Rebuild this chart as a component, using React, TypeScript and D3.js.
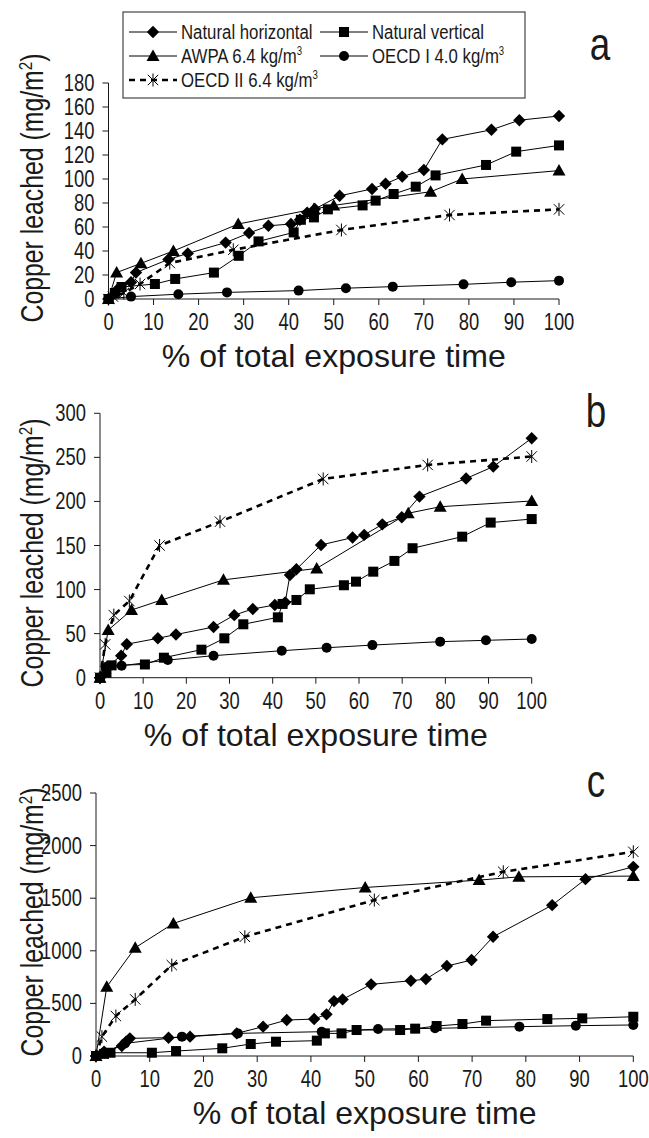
import React from "react";
import * as d3 from "d3";

// ---------- data ----------
const seriesNames = [
  "Natural horizontal",
  "Natural vertical",
  "AWPA 6.4 kg/m",
  "OECD I  4.0 kg/m",
  "OECD II 6.4 kg/m",
];
const seriesShapes = ["diamond", "square", "triangle", "circle", "star"];

const xTicks = [0, 10, 20, 30, 40, 50, 60, 70, 80, 90, 100];
const yTicksA = [0, 20, 40, 60, 80, 100, 120, 140, 160, 180];
const yTicksB = [0, 50, 100, 150, 200, 250, 300];
const yTicksC = [0, 500, 1000, 1500, 2000, 2500];

// Panel a
const aNHx = [0, 2, 5, 6.1, 13.3, 17.6, 26, 31.2, 35.5, 40.5, 42.5, 44.1, 45.8, 51.3, 58.5, 61.5, 65.2, 70, 74.1, 85, 91.2, 100];
const aNHy = [0, 8, 14, 22, 33, 38, 47, 55, 61, 62.5, 66, 72, 75, 86, 91.7, 96, 102, 107.5, 133, 141, 149, 152.5];
const aNVx = [0, 1.4, 2.9, 10.3, 14.8, 23.4, 28.9, 33.3, 41.1, 42.7, 45.6, 48.7, 56.4, 59.3, 63.3, 68.2, 72.6, 83.8, 90.5, 100];
const aNVy = [0, 5, 10, 12.5, 16.7, 22, 36, 48, 55.5, 66, 68, 74.7, 78, 82, 87.5, 93.6, 103, 111.7, 122.8, 128];
const aAWx = [0, 1.8, 7.2, 14.4, 28.8, 45.6, 50, 71.5, 78.5, 100];
const aAWy = [0, 22, 29.7, 40, 62.5, 75, 78, 89.4, 100, 107];
const aO1x = [0, 5, 15.5, 26.3, 42.2, 52.7, 63.1, 78.8, 89.4, 100];
const aO1y = [0, 2, 4, 5.5, 7, 9, 10.3, 12.2, 14, 15.3];
const aO2x = [0, 1, 3.4, 7, 13.6, 27.7, 51.7, 75.7, 100];
const aO2y = [0, 2, 5, 12.5, 30, 41, 57.5, 70, 74.7];

// Panel b
const bNHx = [0, 1.5, 4.9, 6.2, 13.4, 17.6, 26.3, 31.1, 35.4, 40.5, 42.9, 44, 45.5, 51.2, 58.5, 61.2, 65.4, 69.9, 74, 84.8, 91.1, 100];
const bNHy = [0, 12, 25, 38, 44.7, 49, 57.5, 71, 78, 82.5, 85.5, 116.6, 123, 150.6, 159, 162, 174, 182, 205.5, 226, 239.5, 271.7];
const bNVx = [0, 1.5, 2.7, 10.4, 14.8, 23.5, 28.8, 33.2, 41.2, 42.3, 45.5, 48.6, 56.5, 59.3, 63.3, 68.2, 72.4, 83.9, 90.5, 100];
const bNVy = [0, 5.7, 14, 15, 22.7, 31.8, 44.7, 60.6, 68.5, 83.7, 88.2, 100.3, 104.9, 109, 120.3, 132.5, 146.9, 160, 176, 180];
const bAWx = [0, 1.9, 7.3, 14.3, 28.6, 50.2, 71.4, 78.8, 100];
const bAWy = [0, 54, 76.8, 88.2, 111, 124, 186.6, 194, 200.5];
const bO1x = [0, 1.5, 5, 15.7, 26.3, 42.1, 52.5, 63.1, 78.8, 89.4, 100];
const bO1y = [0, 12, 13.6, 20, 25, 30.6, 34, 37, 40.9, 42.4, 43.9];
const bO2x = [0, 1.2, 3.2, 6.8, 13.8, 27.8, 51.7, 75.9, 100];
const bO2y = [0, 37.8, 71, 87, 150, 177, 225.5, 241.4, 251];

// Panel c
const cNHx = [0, 1.5, 4.8, 5.6, 6.3, 13.5, 17.5, 26.2, 31.1, 35.5, 40.6, 42.9, 44.3, 45.9, 51.2, 58.6, 61.4, 65.3, 69.9, 73.9, 84.9, 91.1, 100];
const cNHy = [0, 40, 95, 136, 168, 174, 184, 215, 279, 342, 351, 396, 522, 538, 681, 715, 731, 855, 912, 1133, 1434, 1681, 1798];
const cNVx = [0, 1.5, 2.7, 10.4, 14.9, 23.5, 28.8, 33.5, 41.1, 42.6, 45.7, 48.5, 56.6, 59.4, 63.4, 68.2, 72.6, 84, 90.5, 100];
const cNVy = [0, 20, 31, 31, 47, 73, 114, 136, 146, 215, 215, 247, 247, 260, 285, 304, 336, 351, 358, 373];
const cAWx = [0, 2, 7.3, 14.4, 28.8, 50.1, 71.3, 78.7, 100];
const cAWy = [0, 658, 1029, 1260, 1504, 1602, 1672, 1703, 1710];
const cO1x = [0, 1.5, 5.4, 16, 26.4, 42, 52.5, 63.1, 78.8, 89.3, 100];
const cO1y = [0, 30, 120, 184, 215, 231, 256, 263, 279, 288, 295];
const cO2x = [0, 1.1, 3.7, 7.3, 14.1, 27.7, 51.8, 75.8, 100];
const cO2y = [0, 184, 380, 538, 864, 1133, 1482, 1751, 1941];

const FONT = "'Liberation Sans', Arial, sans-serif";
const INK = "#1a1a1a";
const NARROW = 0.8;

type Pt = [number, number];
const zip = (xs: number[], ys: number[]): Pt[] => xs.map((x, i) => [x, ys[i]]);

function NText({
  x,
  y,
  size,
  anchor = "start",
  rotate = false,
  sx = NARROW,
  children,
}: {
  x: number;
  y: number;
  size: number;
  anchor?: string;
  rotate?: boolean;
  sx?: number;
  children: React.ReactNode;
}) {
  return (
    <text
      transform={`translate(${x},${y})${rotate ? " rotate(-90)" : ""} scale(${sx},1)`}
      textAnchor={anchor}
      fontSize={size}
      fontFamily={FONT}
      fill={INK}
    >
      {children}
    </text>
  );
}

function Marker({ shape, x, y }: { shape: string; x: number; y: number }) {
  if (shape === "diamond") {
    const r = 6.2;
    return <path d={`M${x},${y - r}L${x + r},${y}L${x},${y + r}L${x - r},${y}Z`} fill="#000" />;
  }
  if (shape === "square") {
    const s = 10;
    return <rect x={x - s / 2} y={y - s / 2} width={s} height={s} fill="#000" />;
  }
  if (shape === "triangle") {
    const w = 6.5;
    return <path d={`M${x},${y - 6.5}L${x + w},${y + 5}L${x - w},${y + 5}Z`} fill="#000" />;
  }
  if (shape === "circle") {
    return <circle cx={x} cy={y} r={5} fill="#000" />;
  }
  const r = 6.5;
  const d = r * 0.8;
  return (
    <g stroke="#000" strokeWidth={1}>
      <line x1={x} y1={y - r} x2={x} y2={y + r} />
      <line x1={x - d} y1={y - d} x2={x + d} y2={y + d} />
      <line x1={x - d} y1={y + d} x2={x + d} y2={y - d} />
    </g>
  );
}

function Panel({
  series,
  yTicks,
  yMax,
  x0,
  x1,
  y0,
  y1,
  titleCy,
  letter,
  letterX,
  letterY,
}: {
  series: Pt[][];
  yTicks: number[];
  yMax: number;
  x0: number;
  x1: number;
  y0: number;
  y1: number;
  titleCy: number;
  letter: string;
  letterX: number;
  letterY: number;
}) {
  const xs = d3.scaleLinear().domain([0, 100]).range([x0, x1]);
  const ys = d3.scaleLinear().domain([0, yMax]).range([y0, y1]);
  const line = d3
    .line<Pt>()
    .x((d) => xs(d[0]))
    .y((d) => ys(d[1]));
  const order = [3, 1, 0, 2, 4];
  return (
    <g>
      <line x1={x0} y1={y0} x2={x1} y2={y0} stroke={INK} strokeWidth={1} />
      <line x1={x0} y1={y0} x2={x0} y2={y1} stroke={INK} strokeWidth={1} />
      {xTicks.map((t) => (
        <g key={"x" + t}>
          <line x1={xs(t)} y1={y0} x2={xs(t)} y2={y0 + 6} stroke={INK} />
          <NText x={xs(t)} y={y0 + 31} size={23} anchor="middle">
            {t}
          </NText>
        </g>
      ))}
      {yTicks.map((t) => (
        <g key={"y" + t}>
          <line x1={x0 - 6} y1={ys(t)} x2={x0} y2={ys(t)} stroke={INK} />
          <NText x={x0 - 14} y={ys(t) + 8} size={23} anchor="end">
            {t}
          </NText>
        </g>
      ))}
      <text
        x={(x0 + x1) / 2}
        y={y0 + 68}
        textAnchor="middle"
        fontSize={32}
        fontFamily={FONT}
        fill={INK}
        textLength={344}
        lengthAdjust="spacingAndGlyphs"
      >
        % of total exposure time
      </text>
      <NText x={43} y={titleCy} size={31} anchor="middle" rotate>
        Copper leached (mg/m<tspan dy={-11} fontSize={19}>2</tspan>
        <tspan dy={11}>)</tspan>
      </NText>
      <NText x={letterX} y={letterY} size={46} anchor="middle">
        {letter}
      </NText>
      {order.map((i) => (
        <g key={"s" + i}>
          <path
            d={line(series[i]) || ""}
            fill="none"
            stroke="#000"
            strokeWidth={i === 4 ? 2.6 : 1}
            strokeDasharray={i === 4 ? "6,5" : undefined}
          />
          {series[i].map((p, j) => (
            <Marker key={j} shape={seriesShapes[i]} x={xs(p[0])} y={ys(p[1])} />
          ))}
        </g>
      ))}
    </g>
  );
}

function Legend() {
  const bx = 123, by = 12, bw = 402, bh = 86;
  const items = [
    { i: 0, lx: 129, ly: 32 },
    { i: 1, lx: 320, ly: 32 },
    { i: 2, lx: 129, ly: 56 },
    { i: 3, lx: 320, ly: 56 },
    { i: 4, lx: 129, ly: 80 },
  ];
  return (
    <g>
      <rect x={bx} y={by} width={bw} height={bh} fill="#fff" stroke="#444" strokeWidth={1.2} />
      {items.map(({ i, lx, ly }) => (
        <g key={i}>
          <line
            x1={lx}
            y1={ly}
            x2={lx + 48}
            y2={ly}
            stroke="#000"
            strokeWidth={i === 4 ? 2.6 : 1}
            strokeDasharray={i === 4 ? "6,5" : undefined}
          />
          <Marker shape={seriesShapes[i]} x={lx + 24} y={ly} />
          <NText x={lx + 52} y={ly + 7} size={21}>
            {seriesNames[i]}
            {i >= 2 && (
              <tspan dy={-8} fontSize={12}>
                3
              </tspan>
            )}
          </NText>
        </g>
      ))}
    </g>
  );
}

export default function App() {
  const sa = [zip(aNHx, aNHy), zip(aNVx, aNVy), zip(aAWx, aAWy), zip(aO1x, aO1y), zip(aO2x, aO2y)];
  const sb = [zip(bNHx, bNHy), zip(bNVx, bNVy), zip(bAWx, bAWy), zip(bO1x, bO1y), zip(bO2x, bO2y)];
  const sc = [zip(cNHx, cNHy), zip(cNVx, cNVy), zip(cAWx, cAWy), zip(cO1x, cO1y), zip(cO2x, cO2y)];
  return (
    <svg
      width={649}
      height={1138}
      style={{ position: "absolute", left: 0, top: 0, background: "#fff" }}
    >
      <rect width={649} height={1138} fill="#fff" />
      <Panel series={sa} yTicks={yTicksA} yMax={180} x0={108.5} x1={559} y0={299} y1={83} titleCy={188} letter="a" letterX={600} letterY={60} />
      <Panel series={sb} yTicks={yTicksB} yMax={300} x0={100} x1={531.7} y0={677.7} y1={413.3} titleCy={553} letter="b" letterX={596} letterY={427} />
      <Panel series={sc} yTicks={yTicksC} yMax={2500} x0={96} x1={633.3} y0={1056} y1={793} titleCy={922} letter="c" letterX={596} letterY={797} />
      <Legend />
    </svg>
  );
}
